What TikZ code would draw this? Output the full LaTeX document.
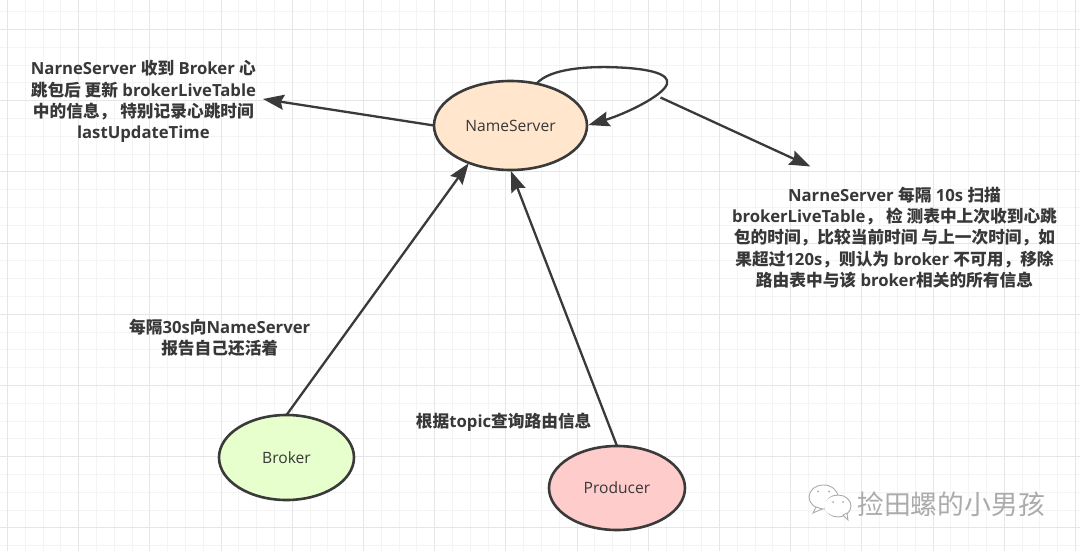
\documentclass[tikz,border=0pt]{standalone}
\usepackage{fontspec}
\setmainfont{Open Sans}
\newfontfamily\cjk{Noto Sans CJK SC}
\newcommand{\cj}[1]{{\cjk #1}}
\usetikzlibrary{shapes.geometric,arrows.meta}
\definecolor{ink}{HTML}{3A3A3A}
\definecolor{txt}{HTML}{383838}
\definecolor{gridmin}{HTML}{F4F4F4}
\definecolor{gridmaj}{HTML}{E6E6E6}
\definecolor{wm}{HTML}{ABABAB}
\definecolor{peach}{RGB}{255,230,204}
\definecolor{lime}{RGB}{230,255,204}
\definecolor{rose}{RGB}{255,204,204}
\tikzset{
  blob/.style={ellipse,draw=ink,line width=2.6pt,inner sep=0pt,outer sep=0pt,
    font=\fontsize{15.6}{18}\selectfont,text=txt},
  note/.style={align=center,inner sep=0pt,text=txt,
    font=\fontsize{16.7}{21.2}\selectfont\bfseries},
  conn/.style={draw=ink,line width=2.3pt,-{Stealth[length=21pt,width=15pt,inset=3pt]}}
}
\begin{document}
\begin{tikzpicture}[x=1pt,y=-1pt]
\fill[white] (0,0) rectangle (1080,551);
\useasboundingbox (0,0) rectangle (1080,551);
% grid
\foreach \k in {0,...,60} {
  \pgfmathsetmacro{\xx}{7.5+17.8*\k}
  \draw[gridmin,line width=1pt] (\xx,0) -- (\xx,551);
}
\foreach \k in {-1,...,31} {
  \pgfmathsetmacro{\yy}{29.5+17.8*\k}
  \draw[gridmin,line width=1pt] (0,\yy) -- (1080,\yy);
}
\foreach \k in {0,...,15} {
  \pgfmathsetmacro{\xx}{7.5+71.2*\k}
  \draw[gridmaj,line width=1pt] (\xx,0) -- (\xx,551);
}
\foreach \k in {0,...,7} {
  \pgfmathsetmacro{\yy}{29.5+71.2*\k}
  \draw[gridmaj,line width=1pt] (0,\yy) -- (1080,\yy);
}
% nodes
\node[blob,fill=peach,minimum width=153pt,minimum height=89pt] (ns) at (510.5,125.5) {NameServer};
\node[blob,fill=lime,minimum width=135pt,minimum height=85pt] (broker) at (286.5,457.5) {Broker};
\node[blob,fill=rose,minimum width=136pt,minimum height=84pt] (producer) at (617,488) {Producer};
% notes
\node[note] (noteL) at (143.4,101.5) {NarneServer \cj{收到} Broker \cj{心}\\ \cj{跳包后 更新} brokerLiveTable\\ \cj{中的信息， 特别记录心跳时间}\\ lastUpdateTime};
\node[note] (noteR) at (894.5,237.5) {NarneServer \cj{每隔} 10s \cj{扫描}\\ brokerLiveTable\cj{， 检 测表中上次收到心跳}\\ \cj{包的时间，比较当前时间 与上一次时间，如}\\ \cj{果超过}120s\cj{，则认为} broker \cj{不可用，移除}\\ \cj{路由表中与该} broker\cj{相关的所有信息}};
\node[note] (noteB) at (219.7,337.5) {\cj{每隔}30s\cj{向}NameServer\\ \cj{报告自己还活着}};
\node[note] (noteP) at (503.7,422.5) {\cj{根据}topic\cj{查询路由信息}};
% free ends
\coordinate (tipL) at (263,99);
\coordinate (tipR) at (810.5,166.5);
\coordinate (startR) at (660.5,97.5);
% connectors
\draw[conn] (ns.west) -- (tipL);
\draw[conn] (startR) -- (tipR);
\draw[conn,shorten >=0.5pt] (broker.north) -- (ns.222);
\draw[conn,shorten >=1pt] (producer.north) -- (ns.south);
\draw[conn,shorten >=1.5pt] (ns.58) .. controls (550,68) and (590,66) .. (620,67.5)
  .. controls (650,69) and (670,74) .. (667,84)
  .. controls (663,96) and (625,114) .. (ns.east);
% watermark
\node[inner sep=0pt,text=wm,font=\cjk\fontsize{26.8}{28}\selectfont] (wmark) at (951,504) {捡田螺的小男孩};
\begin{scope}[draw=wm,line width=0.9pt,fill=white]
  \filldraw (823.5,497) ellipse (14.5pt and 12pt);
  \filldraw (816,507) -- (813,513) -- (822,509) -- cycle;
  \filldraw (838,506) ellipse (13pt and 11pt);
  \filldraw (843,515) -- (848,520) -- (847,513) -- cycle;
  \fill[white] (836,506) ellipse (11.8pt and 9.8pt);
  \fill[wm] (818,491.5) circle (1pt) (829,491.5) circle (1pt) (833,502) circle (1pt) (843,502) circle (1pt);
\end{scope}
\end{tikzpicture}
\end{document}
